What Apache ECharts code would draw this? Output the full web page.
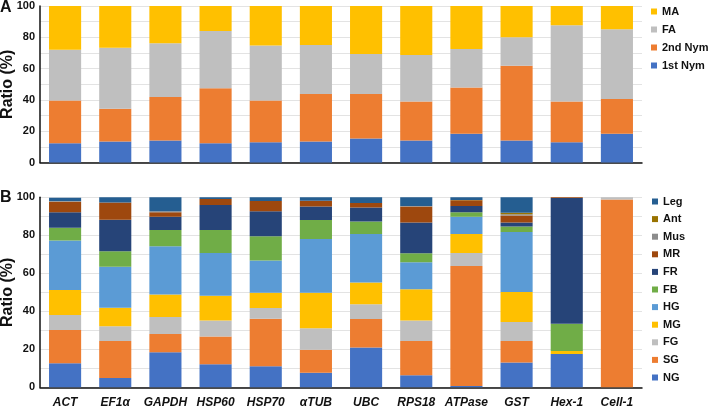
<!DOCTYPE html>
<html><head><meta charset="utf-8">
<script src="https://cdn.jsdelivr.net/npm/echarts@6/dist/echarts.min.js"></script>
<style>html,body{margin:0;padding:0;background:#fff}#c{width:708px;height:407px}</style>
</head><body><div id="c"></div>
<script>
const categories = ['ACT','EF1α','GAPDH','HSP60','HSP70','αTUB','UBC','RPS18','ATPase','GST','Hex-1','Cell-1'];
// Panel A (stage), segments in %
const nym1 = [12.3,13.4,14.0,12.3,13.0,13.4,15.3,14.0,18.3,14.0,13.0,18.3];
const nym2 = [27.3,20.9,27.9,35.1,26.6,30.4,28.5,24.9,29.6,47.9,25.9,22.3];
const fa   = [32.5,39.1,34.3,36.6,35.1,31.3,25.6,29.8,24.7,18.1,48.8,44.5];
const ma   = [27.9,26.6,23.8,16.0,25.3,24.9,30.6,31.3,27.4,20.0,12.3,14.9];
// Panel B (tissue), segments in %
const NG  = [12.6,4.9,18.4,12.1,11.1,7.7,20.9,6.3,0.7,13.0,17.5,0];
const SG  = [17.6,19.5,9.7,14.6,25.0,12.1,15.1,18.1,63.2,11.4,0,98.9];
const FG  = [7.9,7.7,8.9,8.4,5.7,11.3,7.7,10.7,6.8,10.0,0,1.1];
const MG  = [13.1,9.8,11.8,13.1,8.0,18.7,11.4,16.5,10.0,15.8,1.6,0];
const HG  = [26.0,21.6,25.4,22.5,17.0,28.3,25.6,14.2,9.1,31.6,0,0];
const FB  = [6.8,8.1,8.6,12.1,12.7,10.0,6.5,4.7,2.3,2.8,14.4,0];
const FR  = [8.1,16.6,7.0,13.2,13.1,7.0,7.4,16.2,3.3,2.1,66.1,0];
const MR  = [5.6,9.0,2.3,3.1,5.5,3.1,2.4,8.4,3.0,3.7,0.4,0];
const Mus = [0.3,0,0.5,0,0,0,0,0.3,0,0.7,0,0];
const Ant = [0,0,0,0,0,0,0,0,0.2,0.8,0,0];
const Leg = [1.7,2.8,7.4,0.9,1.9,1.8,3.0,4.6,1.6,8.1,0,0];
const yTickLabels = ['0','20','40','60','80','100'];

const topSeries = [['1st Nym',nym1,'#4472C4'],['2nd Nym',nym2,'#ED7D31'],['FA',fa,'#BFBFBF'],['MA',ma,'#FFC000']];
const botSeries = [['NG',NG,'#4472C4'],['SG',SG,'#ED7D31'],['FG',FG,'#BFBFBF'],['MG',MG,'#FFC000'],['HG',HG,'#5B9BD5'],['FB',FB,'#70AD47'],['FR',FR,'#264478'],['MR',MR,'#9E480E'],['Mus',Mus,'#8C8C8C'],['Ant',Ant,'#997300'],['Leg',Leg,'#255E91']];

const font = 'Liberation Sans, Arial, sans-serif';
function yAxis(gi){
  return {gridIndex:gi,type:'value',min:0,max:100,interval:10,
    name:'Ratio (%)',nameLocation:'middle',nameGap:24,nameMoveOverlap:false,
    nameTextStyle:{fontFamily:font,fontSize:16,fontWeight:'bold',color:'#111'},
    axisLine:{show:true,lineStyle:{color:'#111',width:1.5}},axisTick:{show:false},
    axisLabel:{fontFamily:font,fontSize:11,fontWeight:'bold',color:'#111',margin:5,
      formatter:v=>yTickLabels.includes(String(v))?String(v):''},
    splitLine:{show:true,lineStyle:{color:'#E3E3E3',width:1}}};
}
function xAxis(gi,showLabel){
  return {gridIndex:gi,type:'category',data:categories,
    axisLine:{lineStyle:{color:'#111',width:1.5}},axisTick:{show:false},
    axisLabel:{show:showLabel,fontFamily:font,fontSize:12,fontWeight:'bold',fontStyle:'italic',color:'#111',margin:9,interval:0}};
}
const series = [];
topSeries.forEach(([n,d,c])=>series.push({name:n,type:'bar',stack:'a',xAxisIndex:0,yAxisIndex:0,data:d,barCategoryGap:'36%',itemStyle:{color:c}}));
botSeries.forEach(([n,d,c])=>series.push({name:n,type:'bar',stack:'b',xAxisIndex:1,yAxisIndex:1,data:d,barCategoryGap:'36%',itemStyle:{color:c}}));

const legendText = {fontFamily:font,fontSize:11,fontWeight:'bold',color:'#111'};
const chart = echarts.init(document.getElementById('c'),null,{renderer:'canvas'});
chart.setOption({
  animation:false,
  grid:[{left:40,right:66,top:6,height:156.5,containLabel:false,outerBoundsMode:'none'},
        {left:40,right:66,top:197.3,height:190,containLabel:false,outerBoundsMode:'none'}],
  xAxis:[xAxis(0,false),xAxis(1,true)],
  yAxis:[yAxis(0),yAxis(1)],
  legend:[
    {data:['MA','FA','2nd Nym','1st Nym'],orient:'vertical',left:646,top:1,icon:'rect',itemWidth:6,itemHeight:6,itemGap:7,itemStyle:{},textStyle:legendText,selectedMode:false},
    {data:['Leg','Ant','Mus','MR','FR','FB','HG','MG','FG','SG','NG'],orient:'vertical',left:647,top:191,icon:'rect',itemWidth:6,itemHeight:6,itemGap:6.6,textStyle:legendText,selectedMode:false}
  ],
  graphic:[
    {type:'text',left:0,top:0,style:{text:'A',fontFamily:font,fontSize:16,fontWeight:'bold',fill:'#111'}},
    {type:'text',left:0,top:190,style:{text:'B',fontFamily:font,fontSize:16,fontWeight:'bold',fill:'#111'}}
  ],
  series
});
</script></body></html>
